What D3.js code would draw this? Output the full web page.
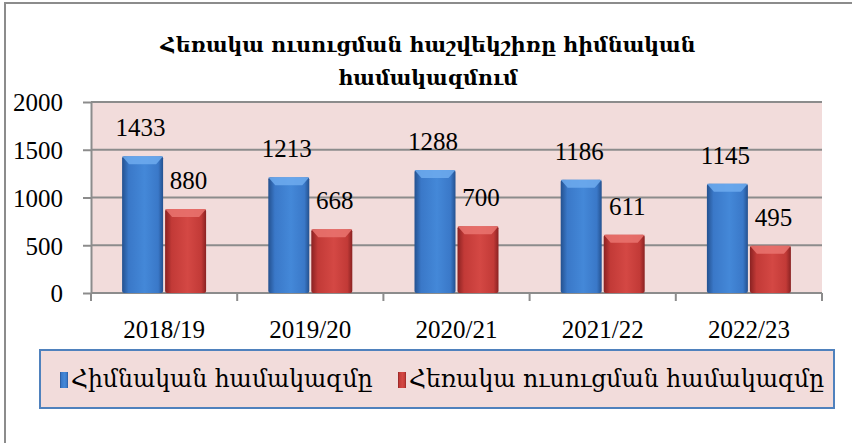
<!DOCTYPE html>
<html>
<head>
<meta charset="utf-8">
<script src="https://cdn.jsdelivr.net/npm/d3@7"></script>
<style>
  body { margin: 0; background: #fff; }
  svg { display: block; }
</style>
</head>
<body>
<div id="chart"></div>
<script>
// data
const years = ["2018/19", "2019/20", "2020/21", "2021/22", "2022/23"];
const basicValues = [1433, 1213, 1288, 1186, 1145];
const distanceValues = [880, 668, 700, 611, 495];
const yTicks = [0, 500, 1000, 1500, 2000];
const seriesNames = ["Հիմնական համակազմը", "Հեռակա ուսուցման համակազմը"];
const titleLines = ["Հեռակա ուսուցման հաշվեկշիռը հիմնական", "համակազմում"];

const W = 852, H = 443;
const plot = { left: 91, right: 822, top: 102, bottom: 293 };
const serif = "'Liberation Serif', 'DejaVu Serif', serif";
const armFont = "'DejaVu Serif', serif";

const svg = d3.select("#chart").append("svg")
  .attr("width", W).attr("height", H);

// gradients for the bevelled bars
const defs = svg.append("defs");
function barGradient(id, dark, mid, light) {
  const g = defs.append("linearGradient").attr("id", id)
    .attr("x1", "0").attr("x2", "1").attr("y1", "0").attr("y2", "0");
  g.append("stop").attr("offset", "0%").attr("stop-color", dark);
  g.append("stop").attr("offset", "16%").attr("stop-color", mid);
  g.append("stop").attr("offset", "55%").attr("stop-color", light);
  g.append("stop").attr("offset", "88%").attr("stop-color", mid);
  g.append("stop").attr("offset", "100%").attr("stop-color", dark);
}
barGradient("gBlue", "#24518f", "#3a78c8", "#4488d8");
barGradient("gRed", "#8a2222", "#c23a37", "#d44844");

// outer frame (left + top only visible)
svg.append("path")
  .attr("d", `M5,${H} L5,3 L${W},3`)
  .attr("fill", "none").attr("stroke", "#8c8c8c").attr("stroke-width", 2);

// title
svg.append("text")
  .attr("x", 428).attr("y", 52)
  .attr("text-anchor", "middle")
  .style("font-family", armFont).style("font-size", "20.5px").style("font-weight", "bold")
  .selectAll("tspan").data(titleLines).join("tspan")
  .attr("x", 428).attr("dy", (d, i) => i ? 33 : 0)
  .text(d => d);

const x0 = d3.scaleBand().domain(years).range([plot.left, plot.right]);
const x1 = d3.scaleBand().domain([0, 1]).range([0, 86]);
const y = d3.scaleLinear().domain([0, 2000]).range([plot.bottom, plot.top]);

// plot background
svg.append("rect")
  .attr("x", plot.left).attr("y", plot.top)
  .attr("width", plot.right - plot.left).attr("height", plot.bottom - plot.top)
  .attr("fill", "#f2dcdb");

// y axis
const yAxis = svg.append("g")
  .attr("transform", `translate(${plot.left},0)`)
  .call(d3.axisLeft(y).tickValues(yTicks).tickFormat(d3.format("d")).tickSize(8).tickSizeOuter(0));
yAxis.attr("font-family", serif).attr("font-size", 25);
yAxis.select(".domain").attr("stroke", "#8c8c8c").attr("stroke-width", 2);
yAxis.selectAll(".tick line").attr("stroke", "#8c8c8c").attr("stroke-width", 2);
yAxis.selectAll(".tick text")
  .attr("x", -28).attr("dy", "0.35em").attr("fill", "#000");

// gridlines
svg.append("g").selectAll("line").data(yTicks).join("line")
  .attr("x1", plot.left).attr("x2", plot.right)
  .attr("y1", d => y(d)).attr("y2", d => y(d))
  .attr("stroke", "#8c8c8c").attr("stroke-width", 2);

// x axis (labels only, ticks sit on category borders)
const xAxis = svg.append("g")
  .attr("transform", `translate(0,${plot.bottom})`)
  .call(d3.axisBottom(x0).tickSize(0).tickSizeOuter(0));
xAxis.attr("font-family", serif).attr("font-size", 25);
xAxis.select(".domain").remove();
xAxis.selectAll(".tick text").attr("y", 45).attr("dy", null).attr("fill", "#000");

svg.append("g").selectAll("line")
  .data(years.map(d => x0(d)).concat([plot.right]))
  .join("line")
  .attr("x1", d => d).attr("x2", d => d)
  .attr("y1", plot.bottom).attr("y2", plot.bottom + 8)
  .attr("stroke", "#8c8c8c").attr("stroke-width", 2);

// bars
const rows = years.map((yr, i) => ({ yr, vals: [basicValues[i], distanceValues[i]] }));
const groups = svg.append("g").selectAll("g").data(rows).join("g")
  .attr("transform", d => `translate(${x0(d.yr) + x0.bandwidth() / 2 - 43},0)`);

const bars = groups.selectAll("g.bar").data(d => d.vals.map((v, s) => ({ v, s })))
  .join("g").attr("class", "bar");

bars.append("rect")
  .attr("x", d => x1(d.s) + 1).attr("width", x1.bandwidth() - 2)
  .attr("y", d => y(d.v)).attr("height", d => y(0) - y(d.v))
  .attr("rx", 2)
  .attr("fill", d => d.s ? "url(#gRed)" : "url(#gBlue)");

// top bevel
bars.append("path")
  .attr("d", d => {
    const l = x1(d.s) + 1, r = l + x1.bandwidth() - 2, t = y(d.v);
    return `M${l},${t} L${r},${t} L${r - 7},${t + 8} L${l + 7},${t + 8} Z`;
  })
  .attr("fill", d => d.s ? "#ea7470" : "#6eabef")
  .attr("opacity", 0.85);

// value labels
bars.append("text")
  .attr("x", d => x1(d.s) + x1.bandwidth() / 2 + (d.s ? 3 : -2))
  .attr("y", d => y(d.v) - 20)
  .attr("text-anchor", "middle")
  .style("font-family", serif).style("font-size", "25px")
  .text(d => d.v);

// legend
const legend = svg.append("g");
legend.append("rect")
  .attr("x", 40).attr("y", 350).attr("width", 794).attr("height", 58)
  .attr("fill", "#f2dcdb").attr("stroke", "#4f81bd").attr("stroke-width", 2);

const legendPos = [60, 398];
const items = legend.selectAll("g").data(seriesNames).join("g")
  .attr("transform", (d, i) => `translate(${legendPos[i]},372)`);
items.append("rect")
  .attr("width", 8).attr("height", 16)
  .attr("fill", (d, i) => i ? "url(#gRed)" : "url(#gBlue)");
items.append("text")
  .attr("x", 11).attr("y", 15)
  .style("font-family", armFont).style("font-size", "23.5px")
  .text(d => d);
</script>
</body>
</html>
